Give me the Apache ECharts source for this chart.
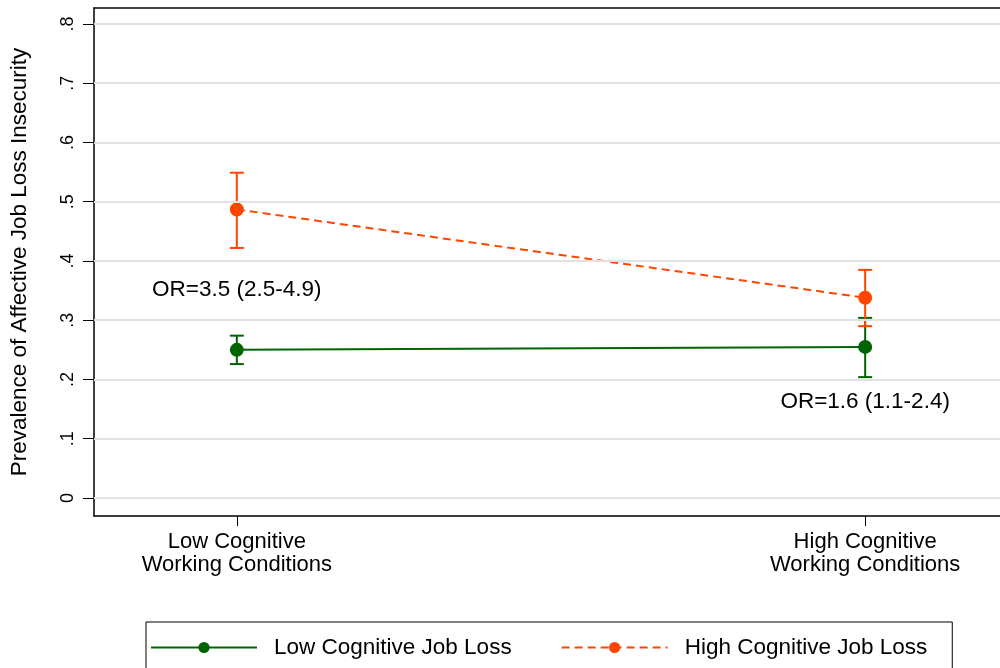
<!DOCTYPE html>
<html>
<head>
<meta charset="utf-8">
<script src="https://cdn.jsdelivr.net/npm/echarts@6/dist/echarts.min.js"></script>
<style>
  html, body { margin: 0; padding: 0; background: #fff; }
  #chart { width: 1000px; height: 668px; }
</style>
</head>
<body>
<div id="chart"></div>
<script>
// Categories on the x axis (positions 1 and 2)
const categories = ['Low Cognitive\nWorking Conditions', 'High Cognitive\nWorking Conditions'];
const categoryPos = [1, 2];

// Predicted prevalence with 95% CI, per group of job loss
const lowJobLossMean  = [0.250, 0.255];
const lowJobLossLo    = [0.226, 0.204];
const lowJobLossHi    = [0.274, 0.304];

const highJobLossMean = [0.487, 0.338];
const highJobLossLo   = [0.422, 0.290];
const highJobLossHi   = [0.549, 0.385];

const seriesNames = ['Low Cognitive Job Loss', 'High Cognitive Job Loss'];

// Odds-ratio annotations: [x, y, text]
const notes = [
  [1, 0.352, 'OR=3.5 (2.5-4.9)'],
  [2, 0.163, 'OR=1.6 (1.1-2.4)']
];

const yTicks = [0, 0.1, 0.2, 0.3, 0.4, 0.5, 0.6, 0.7, 0.8];

const GREEN = '#006400';
const ORANGE = '#ff4500';
const FONT = '"Liberation Sans", Arial, Helvetica, sans-serif';
const X_MIN = 0.7727, X_MAX = 2.2146;

function pairs(xs, ys) { return xs.map((x, i) => [x, ys[i]]); }
function ciRows(xs, lo, hi) { return xs.map((x, i) => [x, lo[i], hi[i]]); }

function errorBar(color) {
  return function (params, api) {
    const x = api.value(0);
    const top = api.coord([x, api.value(2)]);
    const bot = api.coord([x, api.value(1)]);
    const half = 7;
    const style = { stroke: color, lineWidth: 2 };
    return {
      type: 'group',
      children: [
        { type: 'line', shape: { x1: top[0], y1: top[1], x2: bot[0], y2: bot[1] }, style },
        { type: 'line', shape: { x1: top[0] - half, y1: top[1], x2: top[0] + half, y2: top[1] }, style },
        { type: 'line', shape: { x1: bot[0] - half, y1: bot[1], x2: bot[0] + half, y2: bot[1] }, style }
      ]
    };
  };
}

const frameLine = { show: true, onZero: false, lineStyle: { color: '#000', width: 1.5 } };

const chart = echarts.init(document.getElementById('chart'), null, { renderer: 'canvas' });

chart.setOption({
  backgroundColor: '#fff',
  animation: false,
  textStyle: { fontFamily: FONT, color: '#000' },
  grid: { left: 93, top: 8, right: 0, height: 508, show: false },
  xAxis: [
    {
      type: 'value', position: 'bottom',
      min: X_MIN, max: X_MAX,
      axisLine: frameLine,
      splitLine: { show: false },
      axisTick: { show: true, customValues: categoryPos, length: 10, lineStyle: { color: '#000', width: 1 } },
      axisLabel: {
        customValues: categoryPos,
        formatter: v => categories[Math.round(v) - 1] || '',
        fontSize: 22, lineHeight: 23, color: '#000', margin: 14, fontFamily: FONT
      }
    },
    {
      // top edge of the plot frame
      type: 'value', position: 'top',
      min: X_MIN, max: X_MAX,
      axisLine: frameLine,
      axisTick: { show: false }, axisLabel: { show: false }, splitLine: { show: false }
    }
  ],
  yAxis: {
    type: 'value',
    min: -0.0304, max: 0.827,
    name: 'Prevalence of Affective Job Loss Insecurity',
    nameLocation: 'middle', nameGap: 63,
    nameTextStyle: { fontSize: 22.5, color: '#000', fontFamily: FONT },
    axisLine: frameLine,
    axisTick: { show: true, customValues: yTicks, length: 11, lineStyle: { color: '#000', width: 1 } },
    axisLabel: {
      customValues: yTicks,
      rotate: 90, fontSize: 18, color: '#000', margin: 17, fontFamily: FONT,
      formatter: v => (Math.abs(v) < 1e-9 ? '0' : String(Math.round(v * 10) / 10).replace(/^0/, ''))
    },
    splitLine: { show: false }
  },
  legend: {
    data: seriesNames,
    left: 146, top: 622,
    orient: 'horizontal',
    itemWidth: 106, itemHeight: 14, itemGap: 49,
    padding: [14, 25, 14, 4],
    borderColor: '#000', borderWidth: 1,
    textStyle: { fontSize: 22.5, color: '#000', fontFamily: FONT, padding: [0, 0, 0, 12] }
  },
  series: [
    {
      // horizontal reference lines at each labelled y value
      type: 'line', silent: true, data: [],
      markLine: {
        silent: true, symbol: 'none', label: { show: false },
        lineStyle: { color: '#e2e2e2', width: 2, type: 'solid' },
        data: yTicks.map(v => ({ yAxis: v }))
      },
      z: 1
    },
    {
      type: 'custom', name: 'ci-low', silent: true, z: 3,
      renderItem: errorBar(GREEN),
      data: ciRows(categoryPos, lowJobLossLo, lowJobLossHi),
      encode: { x: 0, y: [1, 2] }
    },
    {
      type: 'custom', name: 'ci-high', silent: true, z: 3,
      renderItem: errorBar(ORANGE),
      data: ciRows(categoryPos, highJobLossLo, highJobLossHi),
      encode: { x: 0, y: [1, 2] }
    },
    {
      name: seriesNames[0], type: 'line', z: 4,
      data: pairs(categoryPos, lowJobLossMean),
      symbol: 'circle', symbolSize: 14,
      lineStyle: { color: GREEN, width: 2 },
      itemStyle: { color: GREEN }
    },
    {
      name: seriesNames[1], type: 'line', z: 4,
      data: pairs(categoryPos, highJobLossMean),
      symbol: 'circle', symbolSize: 14,
      lineStyle: { color: ORANGE, width: 2, type: [8, 5] },
      itemStyle: { color: ORANGE }
    },
    {
      type: 'scatter', name: 'notes', silent: true, z: 5,
      symbolSize: 0,
      itemStyle: { opacity: 1 },
      data: notes.map(n => ({ value: [n[0], n[1]], name: n[2] })),
      label: {
        show: true, position: [0, 0], align: 'center', verticalAlign: 'middle',
        formatter: p => p.name,
        fontSize: 22.5, color: '#000', fontFamily: FONT
      }
    }
  ]
});
</script>
</body>
</html>
